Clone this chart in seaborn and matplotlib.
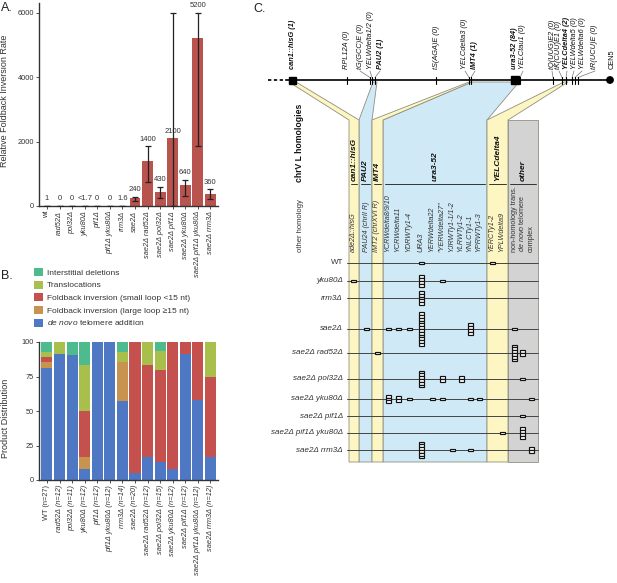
import numpy as np
import pandas as pd
import seaborn as sns
import matplotlib.pyplot as plt
from matplotlib.patches import Rectangle, Polygon, Circle
from matplotlib.patches import Patch

# ---- panel A: relative foldback inversion rate
strains_a = ['wt', 'rad52Δ', 'pol32Δ', 'yku80Δ', 'pif1Δ', 'pif1Δ yku80Δ', 'rrm3Δ', 'sae2Δ',
             'sae2Δ rad52Δ', 'sae2Δ pol32Δ', 'sae2Δ pif1Δ', 'sae2Δ yku80Δ', 'sae2Δ pif1Δ yku80Δ', 'sae2Δ rrm3Δ']
rate = [1, 0, 0, 1.7, 0, 0, 1.6, 240, 1400, 430, 2100, 640, 5200, 360]
rate_lo = [1, 0, 0, 0, 0, 0, 1.6, 160, 750, 250, 0, 310, 1850, 230]
rate_hi = [1, 0, 0, 1.7, 0, 0, 1.6, 290, 1850, 600, 6000, 810, 6000, 520]
rate_text = ['1', '0', '0', '<1.7', '0', '0', '1.6', '240', '1400', '430', '2100', '640', '5200', '360']

# ---- panel B: product distribution (counts per class)
strains_b = ['WT', 'rad52Δ', 'pol32Δ', 'yku80Δ', 'pif1Δ', 'pif1Δ yku80Δ', 'rrm3Δ', 'sae2Δ',
             'sae2Δ rad52Δ', 'sae2Δ pol32Δ', 'sae2Δ yku80Δ', 'sae2Δ pif1Δ', 'sae2Δ pif1Δ yku80Δ', 'sae2Δ rrm3Δ']
n_b = [27, 12, 11, 12, 12, 12, 14, 20, 12, 15, 12, 12, 12, 12]
de_novo = [22, 11, 10, 1, 12, 12, 8, 1, 2, 2, 1, 11, 7, 2]
fb_large = [1, 0, 0, 1, 0, 0, 4, 0, 0, 0, 0, 0, 0, 0]
fb_small = [1, 0, 0, 4, 0, 0, 0, 19, 8, 10, 11, 1, 5, 7]
transloc = [1, 1, 0, 4, 0, 0, 1, 0, 2, 2, 0, 0, 0, 3]
interstitial = [2, 0, 1, 2, 0, 0, 1, 0, 0, 1, 0, 0, 0, 0]
classes = ['Interstitial deletions', 'Translocations', 'Foldback inversion (small loop <15 nt)',
           'Foldback inversion (large loop ≥15 nt)', r'$\it{de\ novo}$ telomere addition']

# ---- panel C: chrV L features and homologies
feat_names = ['can1::hisG', 'RPL12A', 'tG(GCC)E', 'YELWdelta1/2', 'PAU2', 'tS(AGA)E', 'YELCdelta3', 'IMT4',
              'ura3-52', 'YELCtau1', 'tQ(UUG)E2', 'tK(CUU)E1', 'YELCdelta4', 'YELWdelta5', 'YELWdelta6', 'tR(UCU)E']
feat_counts = [1, 0, 0, 0, 1, 0, 0, 1, 84, 0, 0, 0, 2, 0, 0, 0]
col_names = ['can1::hisG', 'PAU2', 'IMT4', 'ura3-52', 'YELCdelta4', 'other']
targets = ['ade2Δ::hisG', 'PAU24 (chrII R)', 'IMT2 (chrXVI R)', 'YCRWdelta8/9/10', 'YCRWdelta11', 'YDRWTy1-4',
           'URA3', 'YERWdelta22', '"YERWdelta27"', 'YJRWTy1-1/1-2', 'YLRWTy1-2', 'YNLCTy1-1', 'YPRWTy1-3',
           'YERCTy1-2', 'YPLWdelta9', 'non-homology trans.', 'de novo telomere', 'complex']
strains_c = ['WT', 'yku80Δ', 'rrm3Δ', 'sae2Δ', 'sae2Δ rad52Δ', 'sae2Δ pol32Δ', 'sae2Δ yku80Δ',
             'sae2Δ pif1Δ', 'sae2Δ pif1Δ yku80Δ', 'sae2Δ rrm3Δ']
events = [
    [0, 0, 0, 0, 0, 0, 1, 0, 0, 0, 0, 0, 0, 1, 0, 0, 0, 0],
    [1, 0, 0, 0, 0, 0, 4, 0, 1, 0, 0, 0, 0, 0, 0, 0, 0, 0],
    [0, 0, 0, 0, 0, 0, 5, 0, 0, 0, 0, 0, 0, 0, 0, 0, 0, 0],
    [0, 1, 0, 1, 1, 1, 12, 0, 0, 0, 0, 4, 0, 0, 0, 1, 0, 0],
    [0, 0, 1, 0, 0, 0, 0, 0, 0, 0, 0, 0, 0, 0, 0, 6, 2, 0],
    [0, 0, 0, 0, 0, 0, 6, 0, 2, 0, 2, 0, 0, 0, 0, 0, 1, 0],
    [0, 0, 0, 3, 2, 1, 0, 1, 1, 0, 0, 1, 1, 0, 0, 0, 0, 1],
    [0, 0, 0, 0, 0, 0, 0, 0, 0, 0, 0, 0, 0, 0, 0, 0, 1, 0],
    [0, 0, 0, 0, 0, 0, 0, 0, 0, 0, 0, 0, 0, 0, 1, 0, 4, 0],
    [0, 0, 0, 0, 0, 0, 6, 0, 0, 1, 0, 1, 0, 0, 0, 0, 0, 2],
]

# layout (pixels)
feat_x = [292, 347, 370, 372, 375, 436, 469, 471, 515, 520, 553, 562, 566, 572, 575, 578]
feat_tx = [292, 347, 360, 370, 380, 436, 465, 475, 515, 523, 552, 559, 567, 574, 582, 595]
col_bounds = [(349, 359), (359, 372), (372, 383), (383, 487), (487, 508), (508, 538)]
col_feat = [(289, 296), (373, 377), (469, 472), (472, 519), (564, 568), None]
col_fill = ['#fdf6c3', '#cfe9f6', '#fdf6c3', '#cfe9f6', '#fdf6c3', '#d3d3d3']
target_x = [353, 366, 377, 388, 398, 409, 421, 432, 442, 452, 461, 470, 479, 492, 502, 514, 522, 531]
row_y = [263, 281, 298, 329, 353, 379, 399, 416, 433, 450]

clr = ['#4dbb8e', '#a8bf4c', '#c4514d', '#c8934f', '#4f78c4']
bar_red = '#b8534e'

sns.set_style('ticks')
plt.rcParams['font.family'] = ['Liberation Sans', 'DejaVu Sans']
plt.rcParams['mathtext.fontset'] = 'custom'
plt.rcParams['mathtext.it'] = 'Liberation Sans:italic'
plt.rcParams['mathtext.rm'] = 'Liberation Sans'

W, H = 617, 583
fig = plt.figure(figsize=(W / 100, H / 100), dpi=100)


def px(l, t, r, b):
    return [l / W, 1 - b / H, (r - l) / W, (b - t) / H]


# ---------------- A
axA = fig.add_axes(px(39, 3, 218, 206))
axA.patch.set_alpha(0)
dfA = pd.DataFrame({'strain': strains_a, 'rate': rate})
sns.barplot(data=dfA, x='strain', y='rate', color=bar_red, width=0.86, saturation=1,
            errorbar=None, linewidth=0, ax=axA)
xa = np.arange(len(strains_a))
r = np.array(rate, float)
axA.errorbar(xa, r, yerr=[r - np.array(rate_lo), np.array(rate_hi) - r], fmt='none',
             ecolor='#222222', elinewidth=0.9, capsize=2.2, capthick=0.9, zorder=5)
for i in range(len(strains_a)):
    top = rate_hi[i] if rate_hi[i] < 2 * max(rate[i], 1) else rate[i]
    axA.text(i, top + 110, rate_text[i], ha='center', va='bottom', fontsize=5.5, color='#333333')
axA.set_ylim(0, 6300)
axA.set_xlim(-0.63, 13.6)
axA.set_yticks([0, 2000, 4000, 6000])
axA.set_xlabel('')
axA.set_ylabel('Relative Foldback Inversion Rate', fontsize=6.5, color='#333333')
axA.yaxis.set_label_coords(-0.17, 0.52)
axA.set_xticklabels(strains_a, rotation=90, fontsize=5.3)
for i, t in enumerate(axA.get_xticklabels()):
    if i > 0:
        t.set_style('italic')
axA.tick_params(axis='both', length=2, width=0.6, pad=1.5, labelsize=5.3, colors='#333333')
sns.despine(ax=axA)
for s in ['left', 'bottom']:
    axA.spines[s].set_linewidth(1.0)
    axA.spines[s].set_color('#333333')

# ---------------- B
axB = fig.add_axes(px(39, 342, 218, 480))
axB.patch.set_alpha(0)
layers = [de_novo, fb_large, fb_small, transloc, interstitial]
pct = np.array(layers, float) / np.array(n_b) * 100
cum = np.cumsum(pct, axis=0)
labels_b = [f'{s} (n={n})' for s, n in zip(strains_b, n_b)]
layer_col = [clr[4], clr[3], clr[2], clr[1], clr[0]]
for k in range(4, -1, -1):
    sns.barplot(x=labels_b, y=cum[k], color=layer_col[k], width=0.88, saturation=1,
                errorbar=None, linewidth=0, ax=axB)
axB.set_ylim(0, 100)
axB.set_xlim(-0.63, 13.6)
axB.set_yticks([0, 25, 50, 75, 100])
axB.set_ylabel('Product Distribution', fontsize=6.5, color='#333333')
axB.yaxis.set_label_coords(-0.16, 0.45)
axB.set_xticks(range(len(labels_b)))
axB.set_xticklabels(labels_b, rotation=90, fontsize=5.3)
for i, t in enumerate(axB.get_xticklabels()):
    if i > 0:
        t.set_style('italic')
axB.tick_params(axis='both', length=2, width=0.6, pad=1.5, labelsize=5.3, colors='#333333')
sns.despine(ax=axB)
for s in ['left', 'bottom']:
    axB.spines[s].set_linewidth(1.0)
    axB.spines[s].set_color('#333333')

handles = [Patch(facecolor=c, edgecolor='none') for c in clr]
fig.legend(handles, classes, loc='upper left', bbox_to_anchor=(34 / W, 1 - 268 / H),
           frameon=False, fontsize=6, handlelength=1.1, handleheight=1.1,
           handletextpad=0.5, labelspacing=0.45, borderpad=0, borderaxespad=0,
           labelcolor='#333333')

fig.text(1 / W, 1 - 8 / H, 'A.', fontsize=9, va='center', color='#222222')
fig.text(1 / W, 1 - 276 / H, 'B.', fontsize=9, va='center', color='#222222')

# ---------------- C
axC = fig.add_axes([0, 0, 1, 1], zorder=-1)
axC.set_xlim(0, W)
axC.set_ylim(H, 0)
axC.axis('off')
axC.text(253, 9, 'C.', fontsize=9, va='center', color='#222222')

chr_y, top, bot = 80, 120, 462
edge = '#8f8f80'
order = [3, 1, 0, 2, 4, 5]
for k in order:
    l, rr = col_bounds[k]
    if col_feat[k] is None:
        pts = [(l, top), (rr, top), (rr, bot), (l, bot)]
    else:
        fl, fr = col_feat[k]
        pts = [(fl, chr_y + 2), (fr, chr_y + 2), (rr, top), (rr, bot), (l, bot), (l, top)]
    axC.add_patch(Polygon(pts, closed=True, fc=col_fill[k], ec=edge, lw=0.6, zorder=1))
    axC.plot([l + 2, rr - 2], [184, 184], color='#333333', lw=0.7, zorder=2)
    axC.text((l + rr) / 2, 181, col_names[k], rotation=90, ha='center', va='bottom',
             fontsize=6, fontweight='bold', style='italic', color='#111111', zorder=3)

# chromosome
axC.plot([268, 286], [chr_y, chr_y], color='black', lw=1.2, ls=(0, (2, 1.5)))
axC.plot([286, 610], [chr_y, chr_y], color='black', lw=1.2)
for i, name in enumerate(feat_names):
    x = feat_x[i]
    if name in ('can1::hisG', 'ura3-52'):
        w = 7 if name == 'can1::hisG' else 8
        axC.add_patch(Rectangle((x - w / 2, chr_y - w / 2), w, w, fc='black', ec='black', zorder=4))
    else:
        axC.plot([x, x], [chr_y - 3.5, chr_y + 3.5], color='black', lw=0.8, zorder=4)
    if feat_tx[i] != x:
        axC.plot([feat_tx[i], x], [71, chr_y - 2.5], color='#777777', lw=0.5, zorder=3)
    bold = feat_counts[i] > 0
    axC.text(feat_tx[i], 69, f'{name} ({feat_counts[i]})', rotation=90, ha='center', va='bottom',
             fontsize=5.3, style='italic', fontweight='bold' if bold else 'normal', color='#111111')
axC.add_patch(Circle((610, chr_y), 3.2, fc='black', ec='black', zorder=4))
axC.text(612, 69, 'CEN5', rotation=90, ha='center', va='bottom', fontsize=5.3, color='#111111')

# side headings
axC.text(300, 182, 'chrV L homologies', rotation=90, ha='center', va='bottom',
         fontsize=6.2, fontweight='bold', color='#111111')
axC.text(300, 252, 'other homology', rotation=90, ha='center', va='bottom',
         fontsize=5.5, color='#333333')

# other homology target names
for j, t in enumerate(targets):
    it = 'normal' if j >= 15 else 'italic'
    if t == 'de novo telomere':
        t = r'$\it{de\ novo}$ telomere'
    axC.text(target_x[j], 252, t, rotation=90, ha='center', va='bottom', fontsize=5.2,
             style=it, color='#333333', zorder=3)

# strain rows and events
bw, bh = 5, 2.8
for i, s in enumerate(strains_c):
    y = row_y[i]
    axC.plot([347, 538], [y, y], color='#444444', lw=0.7, zorder=3)
    axC.text(343, y, s, ha='right', va='center', fontsize=5.8,
             style='normal' if s == 'WT' else 'italic', color='#333333')
    for j, n in enumerate(events[i]):
        for m in range(n):
            axC.add_patch(Rectangle((target_x[j] - bw / 2, y - n * bh / 2 + m * bh), bw, bh,
                                    fc='white', ec='#111111', lw=0.85, zorder=4))

fig.savefig('out.png', dpi=100)
